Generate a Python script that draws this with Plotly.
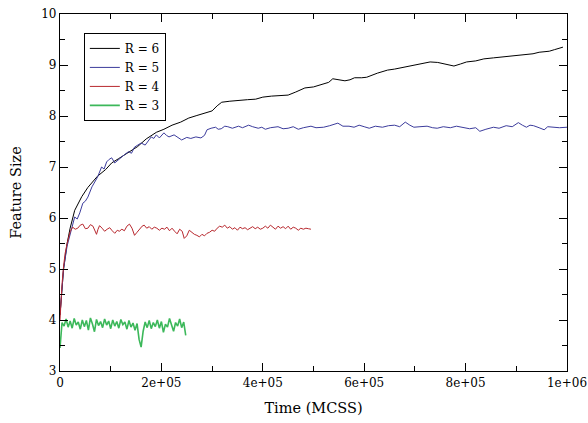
import plotly.graph_objects as go

# ---------------- data ----------------
labels = ["R = 6", "R = 5", "R = 4", "R = 3"]
colors = ["#000000", "#3c3c9c", "#b8282e", "#3cb85a"]

x6 = [0, 4000, 7000, 14000, 20000, 29000, 43000, 55000, 74000, 90000, 102000, 115000,
      127000, 140000, 153000, 170000, 190000, 205000, 221000, 238000, 254000, 270000,
      288000, 300000, 310000, 319000, 335000, 352000, 370000, 386000, 400000, 417000,
      435000, 450000, 465000, 483000, 500000, 515000, 530000, 538000, 550000, 562000,
      572000, 581000, 595000, 605000, 626000, 646000, 660000, 671000, 685000, 699000,
      715000, 730000, 745000, 757000, 770000, 777000, 790000, 802000, 820000, 836000,
      855000, 875000, 890000, 906000, 920000, 933000, 945000, 955000, 965000, 975000,
      984000, 992000]
y6 = [4.10, 4.55, 5.00, 5.50, 5.80, 6.15, 6.42, 6.60, 6.82, 6.95, 7.08, 7.16,
      7.24, 7.32, 7.40, 7.55, 7.68, 7.74, 7.82, 7.88, 7.96, 8.01,
      8.06, 8.10, 8.20, 8.27, 8.29, 8.31, 8.32, 8.33, 8.37, 8.39,
      8.40, 8.41, 8.47, 8.55, 8.57, 8.61, 8.66, 8.73, 8.71, 8.69,
      8.71, 8.75, 8.75, 8.76, 8.84, 8.90, 8.92, 8.94, 8.97, 9.00,
      9.03, 9.06, 9.05, 9.02, 8.99, 8.98, 9.02, 9.06, 9.08, 9.12,
      9.14, 9.16, 9.18, 9.20, 9.21, 9.22, 9.25, 9.26, 9.27, 9.30,
      9.33, 9.35]

x5 = [0, 4000, 7000, 14000, 20000, 29000, 34000, 39000, 45000, 50000, 55000, 63000,
      74000, 82000, 87000, 92000, 97000, 102000, 108000, 117000, 127000, 135000,
      141000, 147000, 153000, 160000, 168000, 174000, 180000, 185000, 190000, 196000,
      205000, 210000, 215000, 225000, 232000, 240000, 250000, 258000, 268000, 278000,
      285000, 290000, 298000, 307000, 312000, 318000, 325000, 331000, 340000, 352000,
      360000, 372000, 380000, 391000, 398000, 405000, 415000, 430000, 440000, 450000,
      460000, 470000, 480000, 495000, 505000, 520000, 532000, 548000, 558000, 570000,
      580000, 590000, 600000, 610000, 622000, 636000, 648000, 660000, 670000, 681000,
      690000, 698000, 710000, 724000, 735000, 744000, 756000, 770000, 782000, 795000,
      808000, 820000, 828000, 840000, 855000, 866000, 880000, 892000, 904000, 912000,
      920000, 927000, 934000, 945000, 955000, 962000, 972000, 985000, 1000000]
y5 = [4.10, 4.55, 5.00, 5.45, 5.70, 6.02, 5.98, 6.10, 6.29, 6.33, 6.41, 6.61,
      6.80, 7.00, 6.96, 7.10, 7.15, 7.18, 7.08, 7.16, 7.24, 7.30,
      7.27, 7.39, 7.42, 7.47, 7.43, 7.52, 7.59, 7.56, 7.63, 7.57,
      7.67, 7.62, 7.59, 7.63, 7.58, 7.53, 7.58, 7.56, 7.59, 7.57,
      7.62, 7.73, 7.76, 7.78, 7.74, 7.75, 7.80, 7.79, 7.76, 7.80,
      7.77, 7.82, 7.79, 7.76, 7.78, 7.74, 7.77, 7.79, 7.75, 7.76,
      7.79, 7.74, 7.77, 7.80, 7.77, 7.78, 7.81, 7.86, 7.80, 7.80,
      7.78, 7.82, 7.79, 7.76, 7.80, 7.78, 7.81, 7.82, 7.79, 7.88,
      7.82, 7.78, 7.79, 7.80, 7.77, 7.76, 7.79, 7.77, 7.80, 7.78,
      7.75, 7.77, 7.70, 7.74, 7.78, 7.76, 7.81, 7.79, 7.87, 7.82,
      7.78, 7.82, 7.81, 7.77, 7.73, 7.79, 7.78, 7.77, 7.78]

x4 = [0, 2000, 4000, 7000, 10000, 14000, 20000, 25000, 30000, 35000, 40000, 45000,
      50000, 55000, 60000, 65000, 70000, 72000, 75000, 78000, 83000, 88000, 93000,
      98000, 103000, 108000, 113000, 117000, 122000, 127000, 132000, 137000, 142000,
      147000, 152000, 157000, 162000, 166000, 171000, 176000, 181000, 186000, 191000,
      196000, 201000, 206000, 211000, 216000, 221000, 226000, 231000, 236000, 241000,
      245000, 250000, 255000, 260000, 265000, 270000, 275000, 280000, 285000, 290000,
      295000, 300000, 305000, 310000, 315000, 320000, 325000, 330000, 335000, 340000,
      345000, 350000, 355000, 360000, 365000, 370000, 375000, 380000, 385000, 390000,
      395000, 400000, 405000, 410000, 415000, 420000, 425000, 430000, 435000, 440000,
      445000, 450000, 455000, 460000, 465000, 470000, 475000, 480000, 485000, 490000,
      495000]
y4 = [4.00, 4.40, 4.70, 5.05, 5.30, 5.50, 5.73, 5.82, 5.78, 5.80, 5.86, 5.88,
      5.79, 5.80, 5.87, 5.84, 5.72, 5.68, 5.78, 5.85, 5.80, 5.74, 5.78,
      5.81, 5.75, 5.70, 5.76, 5.74, 5.78, 5.75, 5.84, 5.88, 5.80,
      5.66, 5.72, 5.78, 5.84, 5.86, 5.80, 5.83, 5.78, 5.82, 5.80,
      5.76, 5.80, 5.78, 5.82, 5.75, 5.80, 5.74, 5.69, 5.78, 5.74,
      5.60, 5.65, 5.76, 5.72, 5.68, 5.66, 5.63, 5.68, 5.65, 5.70,
      5.72, 5.76, 5.74, 5.80, 5.84, 5.82, 5.86, 5.80, 5.83, 5.78,
      5.81, 5.76, 5.82, 5.79, 5.81, 5.77, 5.80, 5.83, 5.79, 5.82,
      5.78, 5.80, 5.84, 5.80, 5.86, 5.81, 5.78, 5.84, 5.80, 5.83,
      5.79, 5.84, 5.78, 5.82, 5.80, 5.76, 5.80, 5.78, 5.80, 5.79,
      5.78]

x3 = [0, 4000, 8000, 12000, 16000, 20000, 24000, 28000, 32000, 36000, 40000, 44000,
      48000, 52000, 56000, 60000, 64000, 68000, 72000, 76000, 80000, 84000, 88000,
      92000, 96000, 100000, 104000, 108000, 112000, 116000, 120000, 124000, 128000,
      132000, 136000, 140000, 144000, 148000, 152000, 156000, 160000, 164000, 168000,
      172000, 176000, 180000, 184000, 188000, 192000, 196000, 200000, 204000, 208000,
      212000, 216000, 220000, 224000, 228000, 232000, 236000, 240000, 244000, 248000]
y3 = [3.45, 3.95, 3.88, 4.02, 3.86, 3.98, 3.84, 4.03, 3.90, 3.96, 3.82, 4.00,
      3.87, 3.99, 3.80, 4.04, 3.92, 3.77, 4.01, 3.89, 3.97, 3.85, 4.02,
      3.90, 3.98, 3.83, 4.00, 3.88, 3.97, 3.84, 4.01, 3.91, 3.96,
      3.82, 3.99, 3.86, 3.94, 3.80, 3.93, 3.62, 3.47, 3.78, 3.96,
      3.85, 3.99, 3.83, 3.95, 3.87, 4.00, 3.84, 3.97, 3.76, 3.92,
      3.86, 4.03, 3.90, 3.78, 3.95, 3.88, 4.02, 3.85, 3.96, 3.70]

x_tickvals = [0, 200000, 400000, 600000, 800000, 1000000]
x_ticktext = ["0", "2e+05", "4e+05", "6e+05", "8e+05", "1e+06"]
y_tickvals = [3, 4, 5, 6, 7, 8, 9, 10]

# ---------------- figure ----------------
FONT = "DejaVu Serif"
fig = go.Figure()
series = [(x6, y6), (x5, y5), (x4, y4), (x3, y3)]
widths = [1, 1, 1, 1.6]
for (xs, ys), name, c, w in zip(series, labels, colors, widths):
    fig.add_trace(go.Scatter(x=xs, y=ys, mode="lines", name=name,
                             line=dict(color=c, width=w)))

axis_common = dict(showline=True, linecolor="black", linewidth=1.2, mirror="ticks",
                   ticks="inside", ticklen=8, tickcolor="black", tickwidth=1,
                   showgrid=False, zeroline=False, ticklabeloverflow="allow",
                   automargin=False,
                   tickfont=dict(family=FONT, size=12, color="black"))

fig.update_xaxes(range=[0, 1000000], tickvals=x_tickvals, ticktext=x_ticktext,
                 minor=dict(dtick=100000, ticks="inside", ticklen=5, tickcolor="black"),
                 title=dict(text="Time (MCSS)", font=dict(family=FONT, size=14.5, color="black"),
                            standoff=14),
                 **axis_common)
fig.update_yaxes(range=[3, 10], tickvals=y_tickvals,
                 minor=dict(dtick=0.5, ticks="inside", ticklen=5, tickcolor="black"),
                 title=dict(text="Feature Size", font=dict(family=FONT, size=14.5, color="black"),
                            standoff=16),
                 **axis_common)

fig.update_layout(
    width=588, height=423,
    margin=dict(l=60, r=21, t=14, b=52),
    plot_bgcolor="white", paper_bgcolor="white",
    showlegend=True,
    font=dict(family=FONT, color="black"),
    legend=dict(x=0.047, y=0.947, xanchor="left", yanchor="top",
                bgcolor="white", bordercolor="black", borderwidth=1,
                font=dict(family=FONT, size=12, color="black"),
                tracegroupgap=0, itemwidth=30),
)

fig.write_html("out.html")
